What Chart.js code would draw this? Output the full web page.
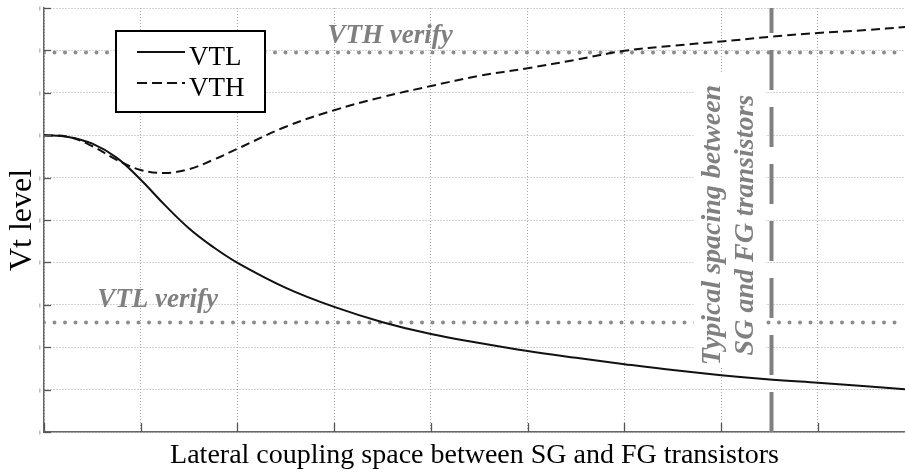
<!DOCTYPE html>
<html>
<head>
<meta charset="utf-8">
<script src="https://cdn.jsdelivr.net/npm/chart.js@4.4.0/dist/chart.umd.min.js"></script>
<style>
html,body{margin:0;padding:0;background:#fff;overflow:hidden}
#wrap{width:905px;height:472px;position:relative}
</style>
</head>
<body>
<div id="wrap"><canvas id="c" width="905" height="472"></canvas></div>
<script>
// ---- data ----
const xPositions = [0, 0.25, 0.5, 0.75, 1, 1.25, 1.5, 1.75, 2, 2.5, 3, 3.5, 4, 4.5, 5, 5.5, 6, 6.5, 7, 7.5, 8, 8.5, 8.9];
const vtlValues  = [7.0, 6.96, 6.8, 6.47, 5.95, 5.35, 4.8, 4.36, 3.99, 3.40, 2.95, 2.59, 2.31, 2.10, 1.91, 1.75, 1.60, 1.46, 1.34, 1.24, 1.16, 1.08, 1.01];
const vthValues  = [7.0, 6.96, 6.74, 6.42, 6.18, 6.11, 6.2, 6.42, 6.68, 7.2, 7.59, 7.90, 8.16, 8.40, 8.58, 8.78, 8.99, 9.11, 9.21, 9.32, 9.41, 9.48, 9.55];
const xTicks = [0, 1, 2, 3, 4, 5, 6, 7, 8];
const yTicks = [0, 1, 2, 3, 4, 5, 6, 7, 8, 9, 10];
const xRange = [0, 8.9];
const yRange = [0, 10];
const vthVerifyLevel = 8.95;
const vtlVerifyLevel = 2.58;
const typicalSpacing = 7.52;
const seriesLabels = ['VTL', 'VTH'];

const annotColor = '#808080';
const annotFont = 'italic bold 27px "Liberation Serif"';
const captionFont = 'italic bold 28px "Liberation Serif"';

const toPts = (xs, ys) => xs.map((x, i) => ({x: x, y: ys[i]}));

const annotPlugin = {
  id: 'annot',
  afterDatasetsDraw(chart, args, opts) {
    const {ctx, scales: {x, y}} = chart;
    ctx.save();
    // white backing box behind the rotated caption
    const vx = x.getPixelForValue(typicalSpacing);
    ctx.fillStyle = '#fff';
    ctx.fillRect(vx - 78, 72, 72, 295);
    ctx.fillStyle = annotColor;
    ctx.font = annotFont;
    ctx.textAlign = 'left';
    ctx.textBaseline = 'alphabetic';
    opts.labels.forEach(l => {
      ctx.fillText(l.text, x.getPixelForValue(l.x), y.getPixelForValue(l.y));
    });
    // rotated caption
    ctx.font = captionFont;
    opts.rotated.forEach(l => {
      ctx.save();
      ctx.translate(vx + l.dx, y.getPixelForValue(l.y));
      ctx.rotate(-Math.PI / 2);
      ctx.textAlign = 'center';
      ctx.fillText(l.text, 0, 0);
      ctx.restore();
    });
    // inner tick marks
    ctx.strokeStyle = '#555';
    ctx.lineWidth = 1.3;
    const area = chart.chartArea;
    xTicks.forEach(v => {
      const px = Math.round(x.getPixelForValue(v)) + 0.5;
      ctx.beginPath(); ctx.moveTo(px, area.bottom); ctx.lineTo(px, area.bottom - 9); ctx.stroke();
    });
    yTicks.forEach(v => {
      const py = Math.round(y.getPixelForValue(v)) + 0.5;
      ctx.beginPath(); ctx.moveTo(area.left, py); ctx.lineTo(area.left + 7, py); ctx.stroke();
      ctx.fillStyle = '#bbb';
      ctx.fillRect(area.left - 5, py - 2, 1.5, 4);
    });
    ctx.restore();
  },
  afterDraw(chart, args, opts) {
    // boxed legend
    const {ctx} = chart;
    const b = opts.legendBox;
    ctx.save();
    ctx.fillStyle = '#fff';
    ctx.fillRect(b.x, b.y, b.w, b.h);
    ctx.strokeStyle = '#000';
    ctx.lineWidth = 2;
    ctx.strokeRect(b.x, b.y, b.w, b.h);
    ctx.font = '27px "Liberation Serif"';
    ctx.fillStyle = '#000';
    ctx.textBaseline = 'alphabetic';
    seriesLabels.forEach((lab, i) => {
      const ds = chart.data.datasets[i];
      const ly = b.y + 21 + i * 31;
      ctx.strokeStyle = ds.borderColor;
      ctx.lineWidth = ds.borderWidth;
      ctx.setLineDash(ds.borderDash ? [10, 5] : []);
      ctx.beginPath(); ctx.moveTo(b.x + 21, ly); ctx.lineTo(b.x + 69, ly); ctx.stroke();
      ctx.setLineDash([]);
      ctx.fillText(lab, b.x + 73, ly + 13);
    });
    ctx.restore();
  }
};

const gridOpts = {color: '#a8a8a8', lineWidth: 1, drawTicks: false};
const borderOpts = {display: true, color: '#666', width: 1.5, dash: [1, 2]};

new Chart(document.getElementById('c'), {
  type: 'line',
  data: {
    datasets: [
      {label: seriesLabels[0], data: toPts(xPositions, vtlValues), borderColor: '#111', borderWidth: 2,
       pointRadius: 0, tension: 0.4, fill: false, order: 1},
      {label: seriesLabels[1], data: toPts(xPositions, vthValues), borderColor: '#111', borderWidth: 2,
       borderDash: [9, 5], pointRadius: 0, tension: 0.4, fill: false, order: 1},
      {label: 'VTH verify', data: toPts(xRange, [vthVerifyLevel, vthVerifyLevel]), borderColor: '#8c8c8c',
       borderWidth: 4, borderDash: [0, 10.5], borderCapStyle: 'round', pointRadius: 0, order: 2},
      {label: 'VTL verify', data: toPts(xRange, [vtlVerifyLevel, vtlVerifyLevel]), borderColor: '#8c8c8c',
       borderWidth: 4, borderDash: [0, 10.5], borderCapStyle: 'round', pointRadius: 0, order: 2},
      {label: 'Typical spacing', data: toPts([typicalSpacing, typicalSpacing], yRange), borderColor: '#808080',
       borderWidth: 4, borderDash: [40, 17], pointRadius: 0, order: 0}
    ]
  },
  options: {
    responsive: false,
    devicePixelRatio: 1,
    animation: false,
    layout: {padding: {top: 8, left: 0, right: 0, bottom: 0}},
    plugins: {
      legend: {display: false},
      tooltip: {enabled: false},
      annot: {
        labels: [
          {text: 'VTH verify', x: 2.93, y: 9.17},
          {text: 'VTL verify', x: 0.55, y: 2.95}
        ],
        rotated: [
          {text: 'Typical spacing between', dx: -51, y: 4.88},
          {text: 'SG and FG transistors', dx: -18, y: 4.88}
        ],
        legendBox: {x: 116, y: 31, w: 149, h: 81}
      }
    },
    scales: {
      x: {
        type: 'linear', min: xRange[0], max: xRange[1],
        afterBuildTicks: s => { s.ticks = xTicks.map(v => ({value: v})); },
        ticks: {display: false},
        grid: gridOpts,
        border: borderOpts,
        title: {display: true, text: 'Lateral coupling space between SG and FG transistors',
                color: '#000', font: {family: 'Liberation Serif', size: 28}, padding: {top: 0, bottom: 0}},
        afterFit: s => { s.height = 40; }
      },
      y: {
        type: 'linear', min: yRange[0], max: yRange[1],
        afterBuildTicks: s => { s.ticks = yTicks.map(v => ({value: v})); },
        ticks: {display: false},
        grid: gridOpts,
        border: borderOpts,
        title: {display: true, text: 'Vt level', color: '#000',
                font: {family: 'Liberation Serif', size: 32}, padding: {top: 3, bottom: 0}},
        afterFit: s => { s.width = 44; }
      }
    }
  },
  plugins: [annotPlugin]
});
</script>
</body>
</html>
